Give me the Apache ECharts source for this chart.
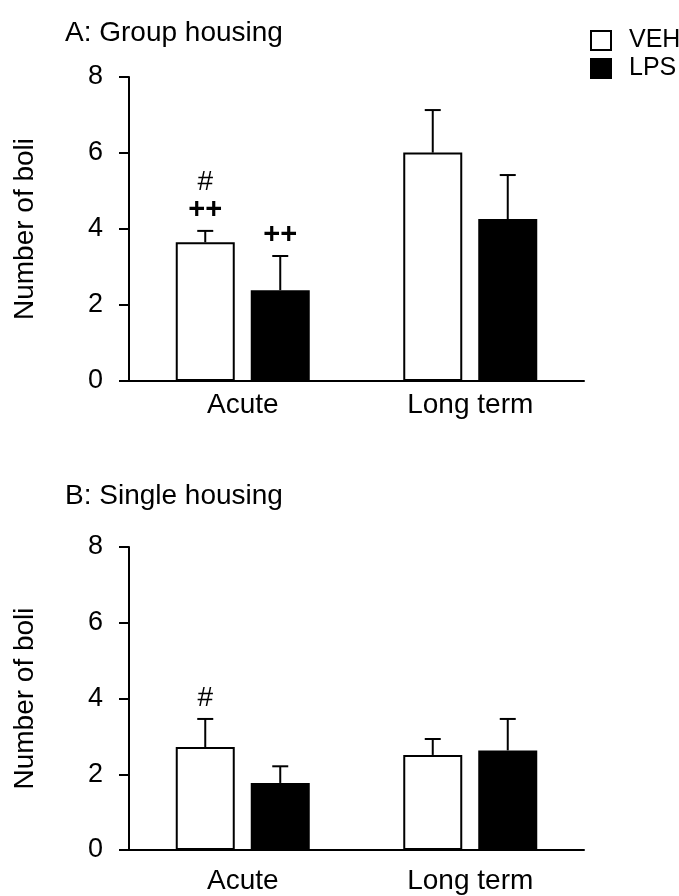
<!DOCTYPE html>
<html>
<head>
<meta charset="utf-8">
<script src="https://cdn.jsdelivr.net/npm/echarts@6/dist/echarts.min.js"></script>
<style>
  html, body { margin: 0; padding: 0; background: #fff; }
  #chart { width: 679px; height: 896px; }
</style>
</head>
<body>
<div id="chart"></div>
<script>
// values
const categories = ['Acute', 'Long term'];
const yTicks = [0, 2, 4, 6, 8];

const groupVeh = [3.65, 6.01];
const groupVehSem = [0.30, 1.12];
const groupLps = [2.39, 4.26];
const groupLpsSem = [0.90, 1.16];

const singleVeh = [2.72, 2.51];
const singleVehSem = [0.74, 0.42];
const singleLps = [1.77, 2.63];
const singleLpsSem = [0.44, 0.83];

// significance marks, top line first
const groupVehMarks = [['#', '++'], []];
const groupLpsMarks = [['++'], []];
const singleVehMarks = [['#'], []];
const singleLpsMarks = [[], []];

const FONT = "'Liberation Sans', Arial, sans-serif";
const BAR_W = 59;
const BAR_GAP = 16;
const OFFSET = (BAR_W + BAR_GAP) / 2;

function errRender(offset, marks) {
  return function (params, api) {
    const cat = api.value(0);
    const mean = api.value(1);
    const sem = api.value(2);
    const base = api.coord([cat, mean]);
    const top = api.coord([cat, mean + sem]);
    const x = base[0] + offset;
    const children = [
      { type: 'line', shape: { x1: x, y1: base[1], x2: x, y2: top[1] }, style: { stroke: '#000', lineWidth: 2 } },
      { type: 'line', shape: { x1: x - 8, y1: top[1], x2: x + 8, y2: top[1] }, style: { stroke: '#000', lineWidth: 2 } }
    ];
    const m = (marks[params.dataIndex] || []).slice().reverse();
    m.forEach(function (t, i) {
      const bold = t.indexOf('+') >= 0;
      children.push({
        type: 'text',
        x: x,
        y: top[1] - 21 - i * 28,
        style: {
          text: t,
          fill: '#000',
          font: (bold ? 'bold 29px ' : '28px ') + FONT,
          align: 'center',
          verticalAlign: 'middle'
        }
      });
    });
    return { type: 'group', children: children };
  };
}

function toErr(means, sems) {
  return categories.map((c, i) => [i, means[i], sems[i]]);
}

function xAxisFor(idx, margin) {
  return {
    type: 'category',
    gridIndex: idx,
    data: categories,
    axisLine: { lineStyle: { color: '#000', width: 2 } },
    axisTick: { show: false },
    axisLabel: { color: '#000', fontSize: 28, fontFamily: FONT, margin: margin }
  };
}

function yAxisFor(idx) {
  return {
    type: 'value',
    gridIndex: idx,
    min: yTicks[0],
    max: yTicks[yTicks.length - 1],
    interval: 2,
    name: 'Number of boli',
    nameLocation: 'middle',
    nameGap: 90,
    nameTextStyle: { color: '#000', fontSize: 28, fontFamily: FONT },
    axisLine: { show: true, lineStyle: { color: '#000', width: 2 } },
    axisTick: { show: true, length: 10, lineStyle: { color: '#000', width: 2 } },
    axisLabel: { color: '#000', fontSize: 27, fontFamily: FONT, margin: 26 },
    splitLine: { show: false }
  };
}

function barSeries(name, idx, data, fill) {
  return {
    name: name,
    type: 'bar',
    xAxisIndex: idx,
    yAxisIndex: idx,
    data: data,
    barWidth: BAR_W,
    barGap: (BAR_GAP / BAR_W * 100) + '%',
    itemStyle: { color: fill, borderColor: '#000', borderWidth: 2 },
    silent: true
  };
}

function errSeries(idx, means, sems, offset, marks) {
  return {
    type: 'custom',
    xAxisIndex: idx,
    yAxisIndex: idx,
    data: toErr(means, sems),
    renderItem: errRender(offset, marks),
    z: 5,
    silent: true
  };
}

const chart = echarts.init(document.getElementById('chart'));
chart.setOption({
  backgroundColor: '#fff',
  animation: false,
  textStyle: { fontFamily: FONT },
  title: [
    { text: 'A: Group housing', left: 60, top: 14, textStyle: { color: '#000', fontSize: 28, fontWeight: 'normal', fontFamily: FONT } },
    { text: 'B: Single housing', left: 60, top: 477, textStyle: { color: '#000', fontSize: 28, fontWeight: 'normal', fontFamily: FONT } }
  ],
  legend: {
    orient: 'vertical',
    left: 585,
    top: 23,
    itemWidth: 20,
    itemHeight: 19,
    itemGap: 3,
    icon: 'rect',
    data: ['VEH', 'LPS'],
    textStyle: { color: '#000', fontSize: 25, fontFamily: FONT, lineHeight: 21, padding: [0, 0, 0, 13] }
  },
  grid: [
    { left: 129, right: 95, top: 77, height: 304 },
    { left: 129, right: 95, top: 547, height: 303 }
  ],
  xAxis: [xAxisFor(0, 10), xAxisFor(1, 17)],
  yAxis: [yAxisFor(0), yAxisFor(1)],
  series: [
    barSeries('VEH', 0, groupVeh, '#fff'),
    barSeries('LPS', 0, groupLps, '#000'),
    barSeries('VEH', 1, singleVeh, '#fff'),
    barSeries('LPS', 1, singleLps, '#000'),
    errSeries(0, groupVeh, groupVehSem, -OFFSET, groupVehMarks),
    errSeries(0, groupLps, groupLpsSem, OFFSET, groupLpsMarks),
    errSeries(1, singleVeh, singleVehSem, -OFFSET, singleVehMarks),
    errSeries(1, singleLps, singleLpsSem, OFFSET, singleLpsMarks)
  ]
});
</script>
</body>
</html>
